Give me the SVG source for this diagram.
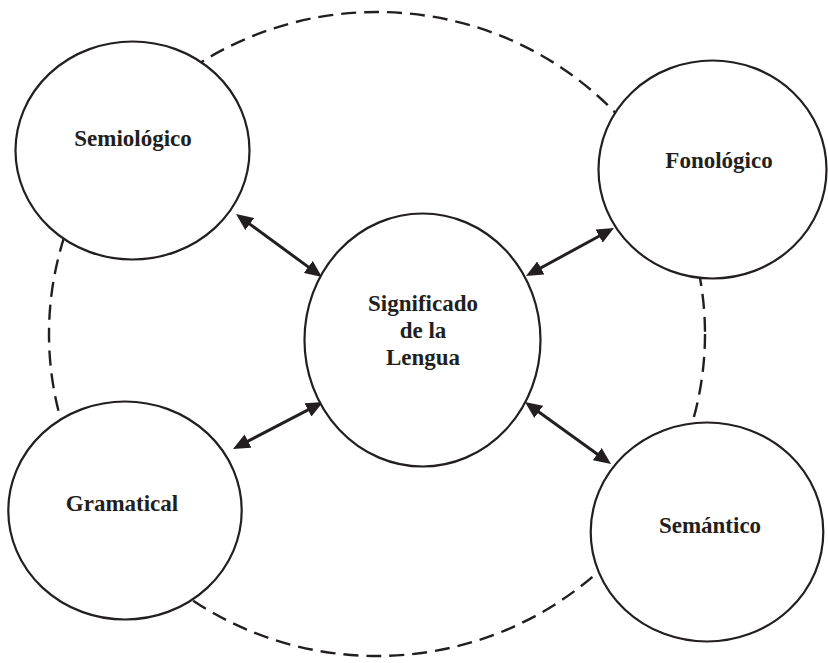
<svg xmlns="http://www.w3.org/2000/svg" width="828" height="663" viewBox="0 0 828 663">
  <defs>
    <style>
      .node { fill: #ffffff; stroke: #231f20; stroke-width: 2.2; }
      .ring { fill: none; stroke: #231f20; stroke-width: 2.4; stroke-dasharray: 15 8; }
      .conn { stroke: #231f20; stroke-width: 3; fill: none; marker-start: url(#arrow); marker-end: url(#arrow); }
      .label { font-family: "Liberation Serif", "Times New Roman", serif; font-weight: bold; font-size: 23px; fill: #231f20; text-anchor: middle; }
    </style>
    <marker id="arrow" viewBox="0 0 17 15" refX="5" refY="7.5" markerWidth="17" markerHeight="15" markerUnits="userSpaceOnUse" orient="auto-start-reverse">
      <path d="M0,0 L17,7.5 L0,15 Z" fill="#231f20"/>
    </marker>
  </defs>
  <rect width="828" height="663" fill="#ffffff"/>
  <ellipse class="ring" cx="377" cy="334" rx="328" ry="322"/>
  <g id="connectors">
    <line class="conn" x1="245.7" y1="221.1" x2="312.3" y2="269.9"/>
    <line class="conn" x1="536.5" y1="270.3" x2="603.5" y2="233.7"/>
    <line class="conn" x1="243.6" y1="443.4" x2="312.4" y2="407.6"/>
    <line class="conn" x1="534.7" y1="409" x2="601.3" y2="457"/>
  </g>
  <g id="semiologico">
    <ellipse class="node" cx="132.5" cy="150.5" rx="117" ry="109"/>
    <text class="label" x="133" y="146">Semiológico</text>
  </g>
  <g id="fonologico">
    <ellipse class="node" cx="712.5" cy="169.5" rx="114" ry="109"/>
    <text class="label" x="719" y="168">Fonológico</text>
  </g>
  <g id="significado">
    <ellipse class="node" cx="422.5" cy="340" rx="118" ry="126.5"/>
    <text class="label" x="423" y="311">Significado</text>
    <text class="label" x="423" y="338">de la</text>
    <text class="label" x="423" y="365">Lengua</text>
  </g>
  <g id="gramatical">
    <ellipse class="node" cx="125" cy="510.5" rx="116.7" ry="109"/>
    <text class="label" x="122" y="511">Gramatical</text>
  </g>
  <g id="semantico">
    <ellipse class="node" cx="707" cy="532" rx="116.3" ry="109.5"/>
    <text class="label" x="710" y="533">Semántico</text>
  </g>
</svg>
